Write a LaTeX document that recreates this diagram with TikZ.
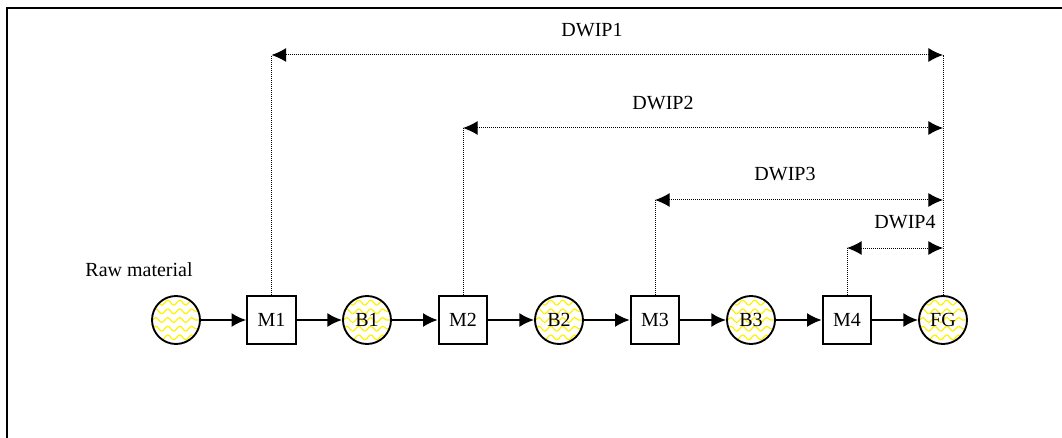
\documentclass[tikz,border=0pt]{standalone}
\usepackage{fontspec}
\setmainfont{Liberation Serif}
\usepackage{tikz}
\usetikzlibrary{arrows.meta}
\usetikzlibrary{decorations.pathmorphing}
\usetikzlibrary{positioning}

\begin{document}
\begin{tikzpicture}[x=0.75pt, y=-0.75pt, font=\fontsize{15}{18}\selectfont,
  machine/.style={rectangle, draw, line width=1.4pt, minimum size=36.5pt, inner sep=0pt},
  buffer/.style={circle, draw, line width=1.4pt, minimum size=36pt, inner sep=0pt,
    path picture={\foreach \k in {-4,...,4} \draw [yellow, line width=0.9pt, decorate, decoration={snake, amplitude=1.8pt, segment length=9pt}] ([yshift=\k*6.5pt]path picture bounding box.west) -- ([yshift=\k*6.5pt]path picture bounding box.east);}},
  flow/.style={line width=1.5pt, -{Latex[length=11pt, width=10.5pt]}},
  lead/.style={line width=0.75pt, dash pattern=on 0.75pt off 0.75pt},
  span/.style={line width=0.75pt, dash pattern=on 0.75pt off 0.75pt, {Latex[length=11pt, width=10.5pt]}-{Latex[length=11pt, width=10.5pt]}}]
\useasboundingbox (0,0) rectangle (1062,438);
\draw [line width=1.5pt] (7,438) -- (7,8) -- (1062,8);
\node (RAW) [buffer] at (176,320) {};
\node (M1) [machine] at (271.5,320) {M1};
\node (B1) [buffer] at (367,320) {B1};
\node (M2) [machine] at (463,320) {M2};
\node (B2) [buffer] at (559,320) {B2};
\node (M3) [machine] at (655,320) {M3};
\node (B3) [buffer] at (751,320) {B3};
\node (M4) [machine] at (847,320) {M4};
\node (FG) [buffer] at (943,320) {FG};
\node (RAWLABEL) at (139,270) {Raw material};
\draw [flow] (RAW.east) -- (M1.west);
\draw [flow] (M1.east) -- (B1.west);
\draw [flow] (B1.east) -- (M2.west);
\draw [flow] (M2.east) -- (B2.west);
\draw [flow] (B2.east) -- (M3.west);
\draw [flow] (M3.east) -- (B3.west);
\draw [flow] (B3.east) -- (M4.west);
\draw [flow] (M4.east) -- (FG.west);
\coordinate (D1L) at (271.5,55);
\coordinate (D1R) at (943,55);
\coordinate (D2L) at (463,128);
\coordinate (D2R) at (943,128);
\coordinate (D3L) at (655,200);
\coordinate (D3R) at (943,200);
\coordinate (D4L) at (847,248);
\coordinate (D4R) at (943,248);
\draw [lead] (FG.north) -- (D1R);
\draw [lead] (M1.north) -- (D1L);
\draw [lead] (M2.north) -- (D2L);
\draw [lead] (M3.north) -- (D3L);
\draw [lead] (M4.north) -- (D4L);
\draw [span] (D1L) -- (D1R);
\draw [span] (D2L) -- (D2R);
\draw [span] (D3L) -- (D3R);
\draw [span] (D4L) -- (D4R);
\node (DWIP1) at (592,30) {DWIP1};
\node (DWIP2) at (663,103) {DWIP2};
\node (DWIP3) at (785,174) {DWIP3};
\node (DWIP4) at (905,222) {DWIP4};
\end{tikzpicture}
\end{document}
